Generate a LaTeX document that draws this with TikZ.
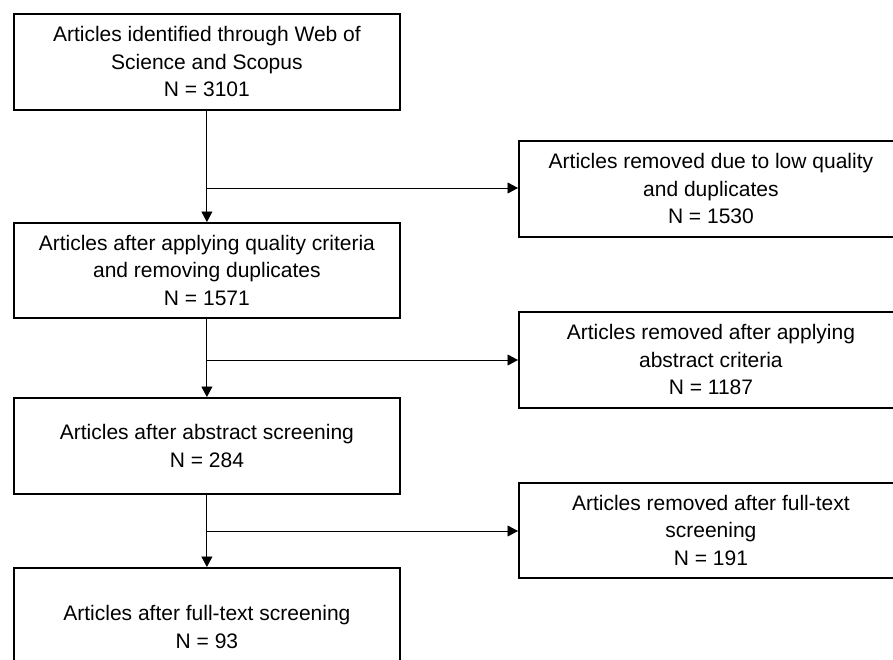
\documentclass[tikz,border=0pt]{standalone}
\usepackage{fontspec}
\setmainfont{Liberation Sans}
\usetikzlibrary{arrows.meta}
\begin{document}
\begin{tikzpicture}[x=1pt,y=-1pt,
  box/.style={draw, line width=1.8pt, inner sep=0pt, align=center,
    font=\fontsize{21}{27.5}\selectfont, anchor=north west},
  arr/.style={line width=0.9pt, -{Triangle[length=10.5pt,width=11pt]}}]
\useasboundingbox (0,0) rectangle (893,659);
\clip (0,0) rectangle (893,659);
\node[box, minimum width=386pt, minimum height=96pt] (b1) at (13,13)
  {Articles identified through Web of\\Science and Scopus\\N = 3101};
\node[box, minimum width=384pt, minimum height=96pt] (r1) at (518,140)
  {Articles removed due to low quality\\and duplicates\\N = 1530};
\node[box, minimum width=386pt, minimum height=95pt] (b2) at (13,222)
  {Articles after applying quality criteria\\and removing duplicates\\N = 1571};
\node[box, minimum width=384pt, minimum height=96pt] (r2) at (518,311)
  {Articles removed after applying\\abstract criteria\\N = 1187};
\node[box, minimum width=386pt, minimum height=96pt] (b3) at (13,397)
  {Articles after abstract screening\\N = 284};
\node[box, minimum width=384pt, minimum height=95pt] (r3) at (518,482)
  {Articles removed after full-text\\screening\\N = 191};
\node[box, minimum width=386pt, minimum height=118pt] (b4) at (13,567)
  {Articles after full-text screening\\N = 93};
\coordinate (j1) at (206,188);
\coordinate (j2) at (206,360);
\coordinate (j3) at (206,531);
\draw[arr] (b1.south) -- (b2.north);
\draw[arr] (j1) -- (j1 -| r1.west);
\draw[arr] (b2.south) -- (b3.north);
\draw[arr] (j2) -- (j2 -| r2.west);
\draw[arr] (b3.south) -- (b4.north);
\draw[arr] (j3) -- (j3 -| r3.west);
\end{tikzpicture}
\end{document}
